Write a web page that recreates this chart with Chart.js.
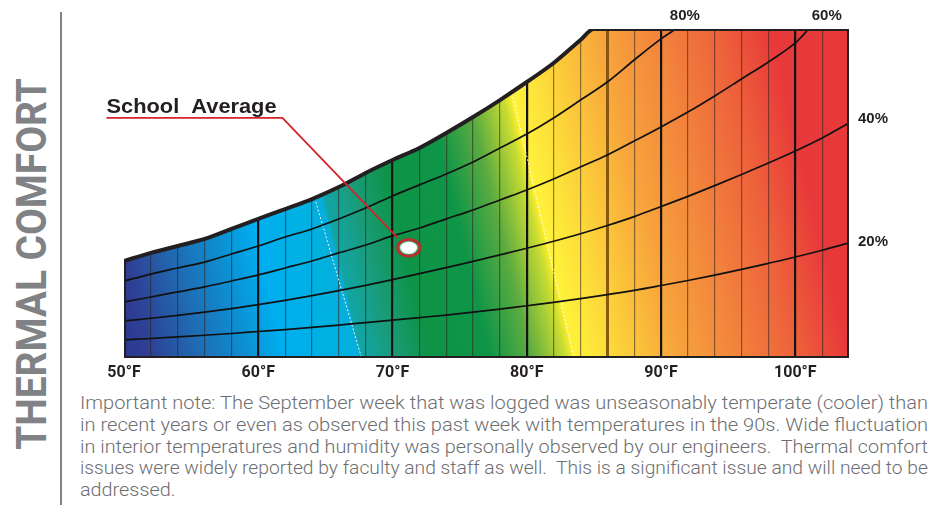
<!DOCTYPE html>
<html>
<head>
<meta charset="utf-8">
<title>Thermal Comfort</title>
<script src="https://cdn.jsdelivr.net/npm/chart.js"></script>
<style>
  html, body { margin:0; padding:0; background:#fff; }
  body { width:937px; height:514px; position:relative; overflow:hidden; font-family: Roboto, "Noto Sans", sans-serif; }
  #chartBox { position:absolute; left:0; top:0; width:937px; height:390px; }
  #side { position:absolute; left:0; top:0; white-space:nowrap; font-family: Roboto, sans-serif; font-weight:700; font-size:42px; line-height:42px; color:#808285; transform-origin:center center; }
  #rule { position:absolute; left:60px; top:12px; width:2px; height:493px; background:#808285; }
  #note { position:absolute; left:80px; top:393px; width:848px; font-family: Roboto, sans-serif; font-size:17.5px; font-weight:300; line-height:21.75px; color:#6d6e71; }
  #note .ln { white-space:nowrap; display:block; height:21.75px; }
  #note .ln span { display:inline-block; transform-origin:left center; }
</style>
</head>
<body>
<div id="side">THERMAL COMFORT</div>
<div id="rule"></div>
<div id="chartBox"><canvas id="c" width="937" height="390"></canvas></div>
<div id="note">
  <div class="ln"><span>Important note: The September week that was logged was unseasonably temperate (cooler) than</span></div>
  <div class="ln"><span>in recent years or even as observed this past week with temperatures in the 90s. Wide fluctuation</span></div>
  <div class="ln"><span>in interior temperatures and humidity was personally observed by our engineers.&nbsp; Thermal comfort</span></div>
  <div class="ln"><span>issues were widely reported by faculty and staff as well.&nbsp; This is a significant issue and will need to be</span></div>
  <div class="ln last"><span>addressed.</span></div>
</div>
<script>
// ---------- DATA (dry-bulb °F, humidity ratio in grains of moisture per lb of dry air) ----------
const temps = [50,52,54,56,58,60,62,64,66,68,70,72,74,76,78,80,82,84,86,88,90,92,94,96,98,100,102,104];

// Saturation (100% RH) boundary, flat top from 85°F
const satTemps = [50,52,54,56,58,60,62,64,66,68,70,72,74,76,78,80,82,84,85,104];
const satHumidity = [54.2,58.7,62.6,66.5,72.1,77.7,83.2,88.8,95.5,103.4,110.6,117.3,125.7,134.6,144.1,154.2,164.8,177.7,183.8,183.8];

// Relative humidity curves
const rh80Temps = [50,52,54,56,58,60,62,64,66,68,70,72,74,76,78,80,82,84,86,88,90,91.1];
const rh80Humidity = [43.0,46.9,50.3,53.6,58.1,62.6,67.6,72.1,77.7,83.8,90.5,96.7,102.8,109.5,117.3,125.1,134.1,144.1,154.2,166.5,178.3,183.8];

const rh60Temps = [50,52,54,56,58,60,62,64,66,68,70,72,74,76,78,80,82,84,86,88,90,92,94,96,98,100,101];
const rh60Humidity = [31.3,34.1,36.9,39.7,43.0,46.4,50.3,54.2,58.7,63.1,68.2,72.6,77.7,82.7,88.3,93.9,100.0,106.7,113.4,121.2,129.1,137.4,146.4,155.9,165.4,176.0,183.8];

const rh40Humidity = [20.7,22.2,23.8,25.6,27.6,29.8,32.2,34.8,37.6,40.6,43.8,47.1,50.5,54.0,57.6,61.3,65.2,69.4,74.0,79.0,84.6,90.3,96.3,102.5,108.9,115.6,122.9,131.3];
const rh20Humidity = [10.1,10.9,11.8,12.7,13.7,14.8,15.9,17.1,18.4,19.8,21.2,22.6,24.0,25.6,27.3,29.2,31.1,33.2,35.4,37.8,40.5,43.3,46.3,49.5,52.9,56.4,60.2,64.3];

const rhLabels = ['80%','60%','40%','20%'];

// Comfort-zone edge lines (white dashed)
const edgeLowTemps = [64.2, 67.7];
const edgeLowHumidity = [89.4, 0];
const edgeHighTemps = [78.9, 83.5];
const edgeHighHumidity = [148.0, 0];

// School average reading and its callout
const schoolLabel = 'School  Average';
const schoolTemp = [71.2];
const schoolHumidity = [61.6];
const leaderTemps = [48.7, 61.8, 70.4];
const leaderHumidity = [134.1, 134.1, 67.0];

// x axis
const xMin = 50, xMax = 104, xStep = 2, xLabelEvery = 10;
const yMax = 183.8;

// colour ramp (temperature position along the bottom edge)
const gradTemps = [50,51.9,55.7,59.4,62.0,66.1,67.6,67.75,70.2,72.8,77.3,80.3,82.9,83.4,83.55,85.5,88.5,91.4,95.9,100.4,104];
const gradColors = ['#2b3990','#2e3f94','#1f6cb3','#0b92d4','#00aeef','#00b1e0','#07aedb','#12a5a6','#1a9b78','#0d9447','#0f9548','#5aab40','#c9dc32','#f2ea2d','#fff23a','#fde23a','#fbc23a','#f7a33c','#f2823c','#ed5f3b','#e8393a'];

// ---------- helpers ----------
const pts = (xs, ys) => xs.map((x, i) => ({x: x, y: ys[i]}));
const satPts = pts(satTemps, satHumidity);
const lastT = satTemps[satTemps.length-1];
const sidePts = [
  {x: lastT, y: satHumidity[satHumidity.length-1]}, {x: lastT, y: 0},
  {x: satTemps[0], y: 0}, {x: satTemps[0], y: satHumidity[0]}
];

// marker image (white ellipse with red ring)
const mk = document.createElement('canvas');
mk.width = 28; mk.height = 22;
(function(){
  const m = mk.getContext('2d');
  m.beginPath(); m.ellipse(14, 11, 11.2, 8.4, 0, 0, Math.PI*2);
  m.strokeStyle = '#d2232a'; m.lineWidth = 2.6; m.stroke();
  m.beginPath(); m.ellipse(14, 11, 8.7, 6.3, 0, 0, Math.PI*2);
  m.fillStyle = '#ffffff'; m.fill();
})();

const bgPlugin = {
  id: 'bgGradient',
  beforeDraw(chart) {
    const ctx = chart.ctx, a = chart.chartArea, x = chart.scales.x;
    const s = 0.24;
    const L = x.getPixelForValue(gradTemps[0]);
    const R = x.getPixelForValue(gradTemps[gradTemps.length-1]);
    const yb = a.bottom;
    const k = (R - L) / (1 + s*s);
    const g = ctx.createLinearGradient(L, yb, L + k, yb - s*k);
    gradTemps.forEach((t, i) => {
      const p = Math.min(1, Math.max(0, (x.getPixelForValue(t) - L) / (R - L)));
      g.addColorStop(p, gradColors[i]);
    });
    ctx.save();
    ctx.fillStyle = g;
    ctx.fillRect(a.left, a.top, a.right - a.left, a.bottom - a.top);
    ctx.restore();
  }
};

const textPlugin = {
  id: 'labels',
  afterDatasetsDraw(chart) {
    const ctx = chart.ctx, x = chart.scales.x, y = chart.scales.y;
    ctx.save();
    ctx.fillStyle = '#231f20';
    // School Average
    ctx.font = 'bold 20px "Liberation Sans", Arial, sans-serif';
    ctx.textBaseline = 'alphabetic';
    ctx.textAlign = 'left';
    const lx = x.getPixelForValue(leaderTemps[0]);
    const ly = y.getPixelForValue(leaderHumidity[0]);
    const w = ctx.measureText(schoolLabel).width;
    ctx.save();
    ctx.translate(lx, ly - 5);
    ctx.scale(170 / w, 1);
    ctx.fillText(schoolLabel, 0, 0);
    ctx.restore();
    // RH labels at curve ends
    ctx.font = 'bold 15px "Liberation Sans", Arial, sans-serif';
    ctx.textBaseline = 'middle';
    const ends = [
      {t: rh80Temps[rh80Temps.length-1], h: rh80Humidity[rh80Humidity.length-1], dx: 9, dy: -13, align: 'center'},
      {t: rh60Temps[rh60Temps.length-1], h: rh60Humidity[rh60Humidity.length-1], dx: 18, dy: -13, align: 'center'},
      {t: temps[temps.length-1], h: rh40Humidity[rh40Humidity.length-1], dx: 9, dy: -4, align: 'left'},
      {t: temps[temps.length-1], h: rh20Humidity[rh20Humidity.length-1], dx: 9, dy: -1, align: 'left'}
    ];
    ends.forEach((e, i) => {
      ctx.textAlign = e.align;
      ctx.fillText(rhLabels[i], x.getPixelForValue(e.t) + e.dx, y.getPixelForValue(e.h) + e.dy);
    });
    ctx.restore();
  }
};

const curve = (data, order) => ({
  data: data, borderColor: '#111111', borderWidth: 1.7, pointRadius: 0,
  cubicInterpolationMode: 'monotone', fill: false, order: order
});

new Chart(document.getElementById('c'), {
  type: 'line',
  data: {
    datasets: [
      { data: satPts, borderWidth: 0, borderColor: 'rgba(0,0,0,0)', backgroundColor: '#ffffff', fill: 'end', pointRadius: 0, cubicInterpolationMode: 'monotone', order: 30 },
      { data: pts(edgeLowTemps, edgeLowHumidity), borderColor: 'rgba(255,255,255,0.9)', borderWidth: 1, borderDash: [2, 2], pointRadius: 0, fill: false, order: 20 },
      { data: pts(edgeHighTemps, edgeHighHumidity), borderColor: 'rgba(255,255,255,0.9)', borderWidth: 1, borderDash: [2, 2], pointRadius: 0, fill: false, order: 20 },
      curve(pts(rh80Temps, rh80Humidity), 10),
      curve(pts(rh60Temps, rh60Humidity), 10),
      curve(pts(temps, rh40Humidity), 10),
      curve(pts(temps, rh20Humidity), 10),
      { data: satPts, borderColor: '#231f20', borderWidth: 4, pointRadius: 0, cubicInterpolationMode: 'monotone', fill: false, borderCapStyle: 'square', borderJoinStyle: 'miter', order: 5 },
      { data: sidePts, borderColor: '#231f20', borderWidth: 4, pointRadius: 0, tension: 0, fill: false, borderCapStyle: 'square', borderJoinStyle: 'miter', order: 5 },
      { data: pts(leaderTemps, leaderHumidity), borderColor: '#d2232a', borderWidth: 1.8, pointRadius: 0, tension: 0, fill: false, clip: false, order: 2 },
      { data: pts(schoolTemp, schoolHumidity), showLine: false, pointStyle: mk, pointRadius: 10, pointHoverRadius: 10, order: 1 }
    ]
  },
  options: {
    responsive: false,
    animation: false,
    devicePixelRatio: 1,
    events: [],
    layout: { padding: { left: 124, right: 88, top: 29, bottom: 0 } },
    plugins: { legend: { display: false }, tooltip: { enabled: false } },
    scales: {
      x: {
        type: 'linear', min: xMin, max: xMax,
        border: { display: false },
        afterFit: (s) => { s.height = 32; },
        grid: {
          drawTicks: false,
          color: (c) => {
            const v = c.tick ? c.tick.value : 0;
            if (v === xMin || v === xMax) return 'rgba(0,0,0,0)';
            if (v % xLabelEvery === 0) return '#161314';
            if (v === 86) return 'rgba(120,78,10,0.9)';
            return 'rgba(45,35,30,0.55)';
          },
          lineWidth: (c) => { const v = c.tick ? c.tick.value : 0; if (v % xLabelEvery === 0) return 2.2; if (v === 86) return 3; return 1.2; }
        },
        ticks: {
          stepSize: xStep, autoSkip: false, maxRotation: 0, padding: 5,
          color: '#231f20',
          font: { family: 'Roboto, sans-serif', size: 16, weight: 'bold' },
          callback: (v) => (v % xLabelEvery === 0 ? v + '°F' : '')
        }
      },
      y: { type: 'linear', display: false, min: 0, max: yMax }
    }
  },
  plugins: [bgPlugin, textPlugin]
});

// side title sizing
(function(){
  const el = document.getElementById('side');
  const w = el.offsetWidth, h = el.offsetHeight;
  el.style.left = (32 - w/2) + 'px';
  el.style.top = (264 - h/2) + 'px';
  el.style.transform = 'rotate(-90deg) scale(' + (372 / w) + ',1)';
})();

// fit note lines to the full width (condensed look)
(function(){
  const target = 848;
  const lines = Array.from(document.querySelectorAll('#note .ln'));
  const scales = [];
  lines.forEach((ln) => {
    if (ln.classList.contains('last')) return;
    const sp = ln.querySelector('span');
    const w = sp.getBoundingClientRect().width;
    const s = target / w;
    scales.push(s);
    sp.style.transform = 'scaleX(' + s + ')';
  });
  const avg = scales.reduce((a, b) => a + b, 0) / scales.length;
  lines.filter((ln) => ln.classList.contains('last')).forEach((ln) => {
    ln.querySelector('span').style.transform = 'scaleX(' + avg + ')';
  });
})();
</script>
</body>
</html>
